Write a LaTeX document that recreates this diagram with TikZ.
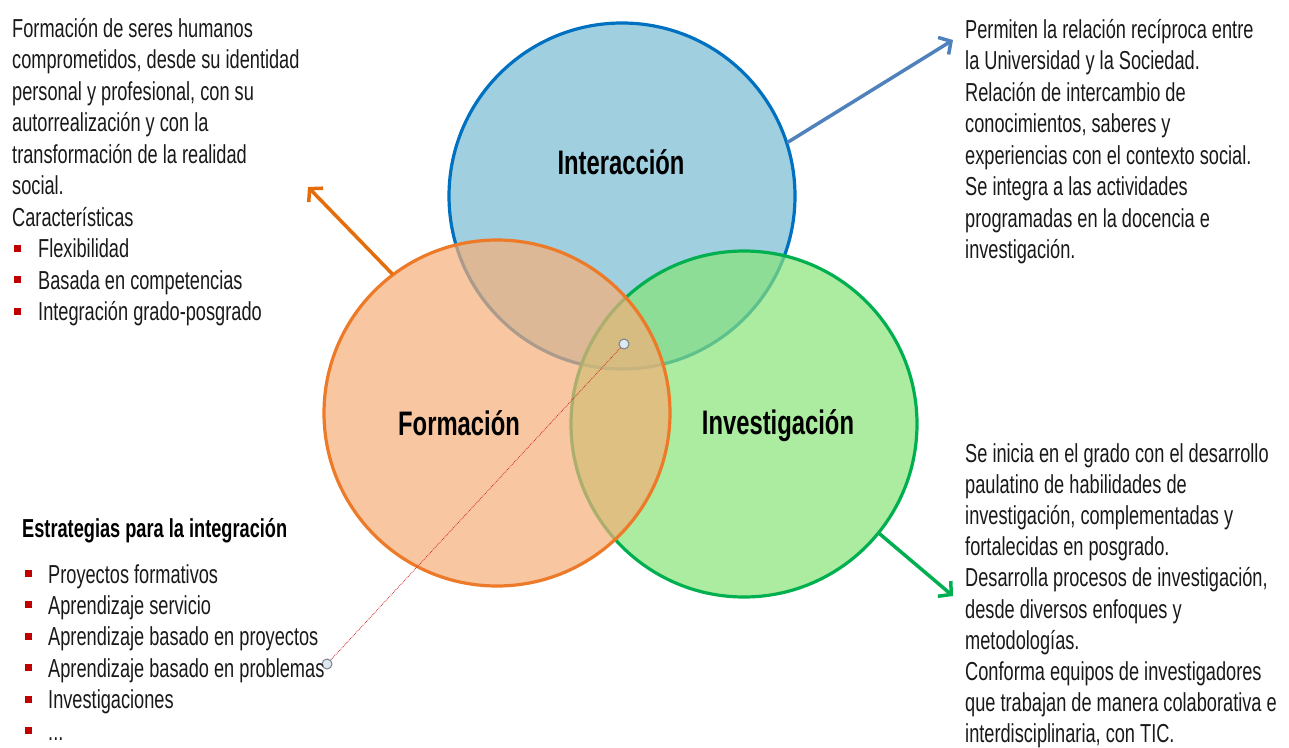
\documentclass[tikz,border=0pt]{standalone}
\usepackage{fontspec}
\setmainfont[FakeStretch=0.70]{Liberation Sans}
\usetikzlibrary{arrows.meta}
\definecolor{bluefill}{RGB}{119,188,211}
\definecolor{bluedraw}{RGB}{0,112,192}
\definecolor{orgfill}{RGB}{245,174,120}
\definecolor{orgdraw}{RGB}{236,122,40}
\definecolor{grnfill}{RGB}{135,228,119}
\definecolor{grndraw}{RGB}{0,176,80}
\definecolor{arrblue}{RGB}{79,129,189}
\definecolor{arrorg}{RGB}{228,108,10}
\definecolor{bulred}{RGB}{192,0,0}
\definecolor{txtc}{RGB}{25,25,25}
\definecolor{dotdraw}{RGB}{120,130,140}
\definecolor{dotfill}{RGB}{222,232,240}
\definecolor{dotline}{RGB}{210,40,40}
\newcommand{\myredsq}{\textcolor{bulred}{\rule[6pt]{7pt}{7pt}}}
\newcommand{\mybitemA}[1]{\makebox[26pt][l]{\hspace{2pt}\myredsq}#1}
\newcommand{\mybitemB}[1]{\makebox[24pt][l]{\hspace{1pt}\myredsq}#1}
\tikzset{
  venn/.style={circle, minimum size=346pt, inner sep=0pt, line width=3.2pt, fill opacity=0.7},
  vlabel/.style={font=\fontsize{34}{36}\selectfont\bfseries, text=black},
  txt/.style={font=\fontsize{26}{31.5}\selectfont, text=txtc, inner sep=0pt, anchor=base west},
  conn/.style={line width=3.5pt, line cap=round, -{Straight Barb[length=9pt,width=20pt]}},
  dotend/.style={circle, minimum size=10pt, inner sep=0pt, draw=dotdraw, fill=dotfill, line width=1pt}
}
\begin{document}
\begin{tikzpicture}[x=1pt,y=-1pt]
\useasboundingbox (0,0) rectangle (1289,747);
\node[venn, draw=bluedraw, fill=bluefill] (inter) at (622,196) {};
\node[venn, draw=grndraw, fill=grnfill] (inv) at (744,424) {};
\node[venn, draw=orgdraw, fill=orgfill] (form) at (497,413) {};
\node[vlabel] (linter) at (621,162) {Interacción};
\node[vlabel] (lform) at (459,423) {Formación};
\node[vlabel] (linv) at (778,426) {Investigación};
\coordinate (eform) at (308,187);
\coordinate (einter) at (953,40);
\coordinate (einv) at (953,596);
\draw[conn, arrorg] (form.127) -- (eform);
\draw[conn, arrblue] (inter.18) -- (einter);
\draw[conn, grndraw] (inv.-39) -- (einv);
\coordinate (c1) at (624,344);
\coordinate (c2) at (327,664);
\draw[dotline, densely dotted, line width=0.8pt] (c1) -- (c2);
\node[dotend] (d1) at (c1) {};
\node[dotend] (d2) at (c2) {};
\node[txt] (tl0) at (12,37) {Formación de seres humanos};
\node[txt] (tl1) at (12,68.5) {comprometidos, desde su identidad};
\node[txt] (tl2) at (12,100) {personal y profesional, con su};
\node[txt] (tl3) at (12,131.5) {autorrealización y con la};
\node[txt] (tl4) at (12,163) {transformación de la realidad};
\node[txt] (tl5) at (12,194.5) {social.};
\node[txt] (tl6) at (12,226) {Características};
\node[txt] (tl7) at (12,257.5) {\mybitemA{Flexibilidad}};
\node[txt] (tl8) at (12,289) {\mybitemA{Basada en competencias}};
\node[txt] (tl9) at (12,320.5) {\mybitemA{Integración grado-posgrado}};
\node[txt] (tr0) at (965,38) {Permiten la relación recíproca entre};
\node[txt] (tr1) at (965,69.5) {la Universidad y la Sociedad.};
\node[txt] (tr2) at (965,101) {Relación de intercambio de};
\node[txt] (tr3) at (965,132.5) {conocimientos, saberes y};
\node[txt] (tr4) at (965,164) {experiencias con el contexto social.};
\node[txt] (tr5) at (965,195.5) {Se integra a las actividades};
\node[txt] (tr6) at (965,227) {programadas en la docencia e};
\node[txt] (tr7) at (965,258.5) {investigación.};
\node[txt] (br0) at (965,462) {Se inicia en el grado con el desarrollo};
\node[txt] (br1) at (965,493.2) {paulatino de habilidades de};
\node[txt] (br2) at (965,524.4) {investigación, complementadas y};
\node[txt] (br3) at (965,555.6) {fortalecidas en posgrado.};
\node[txt] (br4) at (965,586.8) {Desarrolla procesos de investigación,};
\node[txt] (br5) at (965,618) {desde diversos enfoques y};
\node[txt] (br6) at (965,649.2) {metodologías.};
\node[txt] (br7) at (965,680.4) {Conforma equipos de investigadores};
\node[txt] (br8) at (965,711.6) {que trabajan de manera colaborativa e};
\node[txt] (br9) at (965,742.8) {interdisciplinaria, con TIC.};
\node[txt, font=\fontsize{26}{28}\selectfont\bfseries, text=black] (head) at (22,537) {Estrategias para la integración};
\node[txt] (bl0) at (24,583) {\mybitemB{Proyectos formativos}};
\node[txt] (bl1) at (24,614.4) {\mybitemB{Aprendizaje servicio}};
\node[txt] (bl2) at (24,645.8) {\mybitemB{Aprendizaje basado en proyectos}};
\node[txt] (bl3) at (24,677.2) {\mybitemB{Aprendizaje basado en problemas}};
\node[txt] (bl4) at (24,708.6) {\mybitemB{Investigaciones}};
\node[txt] (bl5) at (24,740) {\mybitemB{...}};
\end{tikzpicture}
\end{document}
